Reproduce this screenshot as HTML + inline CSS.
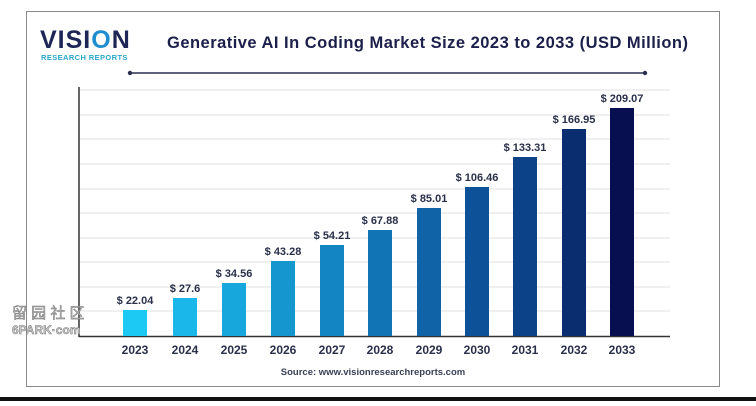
<!DOCTYPE html>
<html><head><meta charset="utf-8"><style>
body{margin:0;width:756px;height:401px;background:#fff;overflow:hidden;font-family:"Liberation Sans",sans-serif;}
</style></head><body>
<svg width="756" height="401" xmlns="http://www.w3.org/2000/svg" font-family="Liberation Sans, sans-serif">
<rect x="26.5" y="11.5" width="693" height="375" fill="#fff" stroke="#8a8a8a" stroke-width="1"/>
<rect x="0" y="397" width="756" height="4" fill="#111"/>
<text x="40" y="48" font-size="25" font-weight="bold" fill="#1d2655" letter-spacing="1">VISI<tspan fill="#1d8fd0">O</tspan>N</text>
<text x="41" y="60" font-size="7.5" font-weight="bold" fill="#2aa6c9" letter-spacing="0.4">RESEARCH REPORTS</text>
<text x="167" y="48" font-size="16.5" font-weight="bold" fill="#1b1f4a" textLength="521" lengthAdjust="spacing">Generative AI In Coding Market Size 2023 to 2033 (USD Million)</text>
<line x1="130" y1="73" x2="645" y2="73" stroke="#2a2f4f" stroke-width="1.6"/>
<circle cx="130" cy="73" r="2.2" fill="#2a2f4f"/><circle cx="645" cy="73" r="2.2" fill="#2a2f4f"/>
<g stroke="#e6e6e6" stroke-width="1.2">
<line x1="80" y1="90" x2="670" y2="90"/><line x1="80" y1="115" x2="670" y2="115"/><line x1="80" y1="139" x2="670" y2="139"/><line x1="80" y1="164" x2="670" y2="164"/><line x1="80" y1="189" x2="670" y2="189"/><line x1="80" y1="213" x2="670" y2="213"/><line x1="80" y1="238" x2="670" y2="238"/><line x1="80" y1="262" x2="670" y2="262"/><line x1="80" y1="287" x2="670" y2="287"/><line x1="80" y1="311" x2="670" y2="311"/>
</g>
<line x1="79" y1="87" x2="79" y2="337" stroke="#333" stroke-width="1.5"/>
<line x1="79" y1="336.5" x2="670" y2="336.5" stroke="#333" stroke-width="1.5"/>
<g>
<rect x="123" y="310" width="24" height="26" fill="#1cc8f4"/>
<rect x="173" y="298" width="24" height="38" fill="#1ab8ea"/>
<rect x="222" y="283" width="24" height="53" fill="#18a7dd"/>
<rect x="271" y="261" width="24" height="75" fill="#1596cf"/>
<rect x="320" y="245" width="24" height="91" fill="#1385c2"/>
<rect x="368" y="230" width="24" height="106" fill="#1174b5"/>
<rect x="417" y="208" width="24" height="128" fill="#0f63a6"/>
<rect x="465" y="187" width="24" height="149" fill="#0d5298"/>
<rect x="513" y="157" width="24" height="179" fill="#0b4288"/>
<rect x="562" y="129" width="24" height="207" fill="#0a2d70"/>
<rect x="610" y="108" width="24" height="228" fill="#080f50"/>
</g>
<g font-size="11" font-weight="bold" fill="#2a2f4a" text-anchor="middle">
<text x="135" y="304">$ 22.04</text><text x="185" y="292">$ 27.6</text><text x="234" y="277">$ 34.56</text><text x="283" y="255">$ 43.28</text><text x="332" y="239">$ 54.21</text><text x="380" y="224">$ 67.88</text><text x="429" y="202">$ 85.01</text><text x="477" y="181">$ 106.46</text><text x="525" y="151">$ 133.31</text><text x="574" y="123">$ 166.95</text><text x="622" y="102">$ 209.07</text>
</g>
<g font-size="12" font-weight="bold" fill="#2a2f4a" text-anchor="middle">
<text x="135" y="354">2023</text><text x="185" y="354">2024</text><text x="234" y="354">2025</text><text x="283" y="354">2026</text><text x="332" y="354">2027</text><text x="380" y="354">2028</text><text x="429" y="354">2029</text><text x="477" y="354">2030</text><text x="525" y="354">2031</text><text x="574" y="354">2032</text><text x="622" y="354">2033</text>
</g>
<text x="373" y="375" font-size="9.5" font-weight="bold" fill="#3a3f55" text-anchor="middle">Source: www.visionresearchreports.com</text>
<text x="12" y="318" font-size="15" fill="#bbb" font-family="Liberation Sans, Noto Sans CJK SC, sans-serif" stroke="#777" stroke-width="0.5">留 园 社 区</text>
<text x="12" y="334" font-size="12" font-weight="bold" fill="#ccc" stroke="#777" stroke-width="0.5">6PARK·com</text>
</svg>
</body></html>
